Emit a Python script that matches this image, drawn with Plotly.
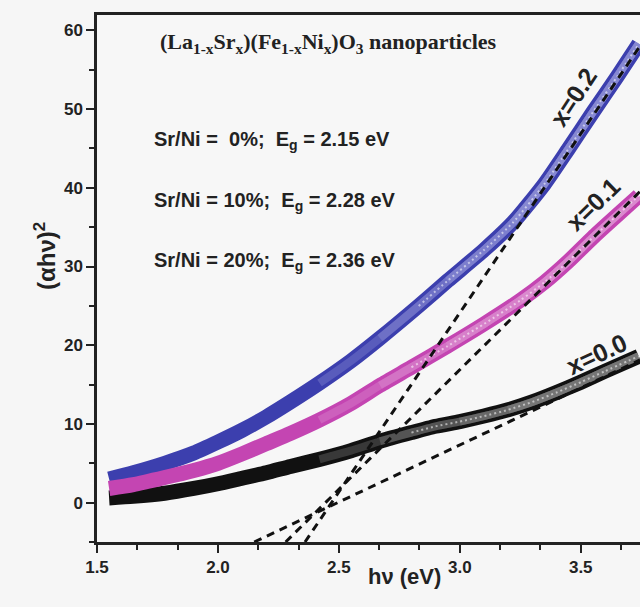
import plotly.graph_objects as go

# Tauc plot data: photon energy (eV) vs (alpha*h*nu)^2
hv_x00 = [1.55, 1.65, 1.78, 1.90, 2.00, 2.10, 2.20, 2.30, 2.42, 2.55, 2.67, 2.80, 2.90, 3.00, 3.10, 3.20, 3.30, 3.40, 3.50, 3.60, 3.74]
ah_x00 = [0.6, 0.8, 1.2, 1.8, 2.4, 3.1, 3.8, 4.6, 5.5, 6.6, 7.8, 8.9, 9.7, 10.3, 11.0, 11.8, 12.8, 14.0, 15.3, 16.7, 18.6]

hv_x01 = [1.55, 1.65, 1.78, 1.90, 2.00, 2.10, 2.20, 2.30, 2.42, 2.55, 2.67, 2.80, 2.95, 3.10, 3.25, 3.35, 3.45, 3.55, 3.65, 3.74]
ah_x01 = [1.8, 2.3, 3.2, 4.1, 5.0, 6.2, 7.5, 8.8, 10.5, 12.6, 14.9, 17.2, 19.9, 22.7, 25.7, 28.0, 30.7, 33.7, 36.5, 39.0]

hv_x02 = [1.55, 1.65, 1.78, 1.90, 2.00, 2.10, 2.20, 2.30, 2.42, 2.55, 2.67, 2.83, 2.95, 3.10, 3.22, 3.35, 3.45, 3.55, 3.65, 3.74]
ah_x02 = [3.0, 3.8, 5.0, 6.3, 7.7, 9.2, 10.9, 12.8, 15.2, 18.0, 20.9, 25.0, 28.2, 32.1, 35.6, 40.5, 45.0, 49.6, 54.1, 58.3]

# Linear Tauc fits: band gap Eg (eV) and slope of each extrapolated line
eg_values = [2.15, 2.28, 2.36]
fit_slopes = [14.5, 30.4, 45.5]
series_names = ["x=0.0", "x=0.1", "x=0.2"]
series_colors = ["#111111", "#c445b2", "#3c3fae"]
series_light = ["150,150,150", "226,160,216", "160,158,222"]
legend_lines = [
    "Sr/Ni =  0%;  E<sub>g</sub> = 2.15 eV",
    "Sr/Ni = 10%;  E<sub>g</sub> = 2.28 eV",
    "Sr/Ni = 20%;  E<sub>g</sub> = 2.36 eV",
]

X_RANGE = [1.5, 3.745]
Y_RANGE = [-5, 61.96]
# the hollow symbols spread apart with energy, so the band core fades in by steps
CORE_STEPS = [2.55, 2.8, 3.05, 3.3]

fig = go.Figure()

curves = [(hv_x00, ah_x00), (hv_x01, ah_x01), (hv_x02, ah_x02)]
for i in (0, 2, 1):
    xs, ys = curves[i]
    fig.add_trace(go.Scatter(
        x=xs, y=ys, mode="lines", name=series_names[i],
        line=dict(color=series_colors[i], width=15, shape="spline", smoothing=0.6),
        showlegend=False, hoverinfo="skip"))
    for start in CORE_STEPS:
        k = next(j for j, v in enumerate(xs) if v >= start)
        fig.add_trace(go.Scatter(
            x=xs[k - 1:], y=ys[k - 1:], mode="lines",
            line=dict(color="rgba(%s,0.3)" % series_light[i], width=8, shape="spline", smoothing=0.6),
            showlegend=False, hoverinfo="skip"))
    k = next(j for j, v in enumerate(xs) if v >= CORE_STEPS[1])
    fig.add_trace(go.Scatter(
        x=xs[k:], y=ys[k:], mode="lines",
        line=dict(color="rgba(255,255,255,0.55)", width=2, dash="2px,3px", shape="spline", smoothing=0.6),
        showlegend=False, hoverinfo="skip"))

# dashed extrapolation lines, each starting at Eg on the lower edge of the frame
for eg, m in zip(eg_values, fit_slopes):
    xs = [eg, X_RANGE[1]]
    ys = [Y_RANGE[0] + m * (x - eg) for x in xs]
    fig.add_trace(go.Scatter(
        x=xs, y=ys, mode="lines",
        line=dict(color="#111111", width=3, dash="8px,6px"),
        showlegend=False, hoverinfo="skip"))

SANS = "Liberation Sans Narrow, Liberation Sans, Arial, sans-serif"
SANS_W = "Liberation Sans, Arial, sans-serif"
SERIF = "Liberation Serif, Times New Roman, serif"

annotations = [
    dict(x=1.752, y=58.4, xanchor="left", yanchor="middle",
         text="<b>(La<sub>1-x</sub>Sr<sub>x</sub>)(Fe<sub>1-x</sub>Ni<sub>x</sub>)O<sub>3</sub> nanoparticles</b>",
         font=dict(family=SERIF, size=22, color="#222222"), showarrow=False),
]
for txt, yv in zip(legend_lines, [46.0, 38.3, 30.7]):
    annotations.append(dict(x=1.727, y=yv, xanchor="left", yanchor="middle", text="<b>" + txt + "</b>",
                            font=dict(family=SANS, size=20, color="#222222"), showarrow=False))

for txt, xv, yv, ang in [("x=0.2", 3.47, 51.5, -57), ("x=0.1", 3.55, 38.0, -44), ("x=0.0", 3.566, 18.9, -25)]:
    annotations.append(dict(x=xv, y=yv, text="<b>" + txt + "</b>", textangle=ang,
                            font=dict(family=SANS_W, size=25, color="#222222"), showarrow=False))

annotations.append(dict(xref="paper", yref="paper", x=(28 - 97) / 543, y=(542 - 256) / 527,
                        text="<b>(αhν)<sup>2</sup></b>", textangle=-90,
                        font=dict(family=SANS_W, size=24, color="#222222"),
                        showarrow=False))
annotations.append(dict(xref="paper", yref="paper", x=(404 - 97) / 543, y=-(591 - 542) / 527,
                        text="<b>hν (eV)</b>",
                        font=dict(family=SANS_W, size=22, color="#222222"),
                        showarrow=False))

tick_font = dict(family=SANS_W, size=17, color="#222222", weight="bold")

fig.update_layout(
    width=640, height=607,
    margin=dict(l=97, r=0, t=15, b=65),
    paper_bgcolor="#f6f6f6", plot_bgcolor="#f7f7f7",
    annotations=annotations,
    xaxis=dict(range=X_RANGE, tick0=1.5, dtick=0.5, showgrid=False, zeroline=False,
               showline=True, linecolor="#222222", linewidth=2.5, mirror=True,
               ticks="outside", ticklen=8, tickwidth=2, tickcolor="#222222",
               tickformat=".1f", tickfont=tick_font,
               minor=dict(dtick=0.5 / 3, tick0=1.5, ticks="outside", ticklen=5, tickwidth=2, tickcolor="#222222")),
    yaxis=dict(range=Y_RANGE, tickmode="array", tickvals=[0, 10, 20, 30, 40, 50, 60],
               showgrid=False, zeroline=False,
               showline=True, linecolor="#222222", linewidth=2.5, mirror=False,
               ticks="outside", ticklen=8, tickwidth=2, tickcolor="#222222",
               tickfont=tick_font,
               minor=dict(dtick=5, tick0=0, ticks="outside", ticklen=5, tickwidth=2, tickcolor="#222222")),
)

fig.write_html("out.html")
